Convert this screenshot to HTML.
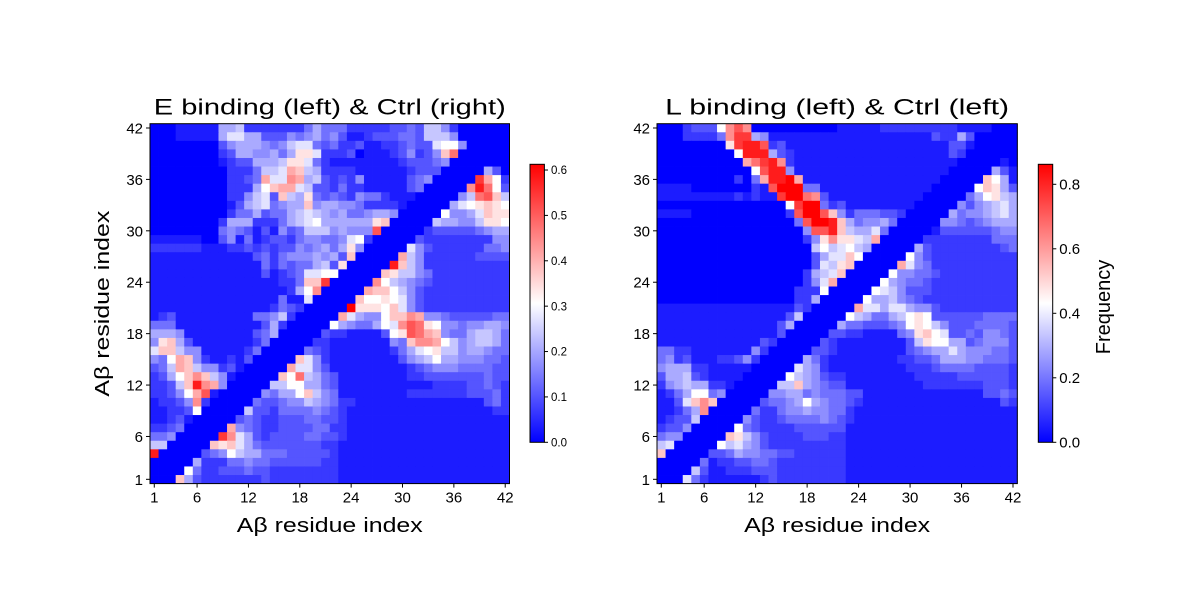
<!DOCTYPE html>
<html><head><meta charset="utf-8"><style>
html,body{margin:0;padding:0;background:#fff;}
svg{display:block;font-family:"Liberation Sans",sans-serif;}
</style></head>
<body>
<svg id="fig" width="1200" height="600" viewBox="0 0 1200 600" xmlns="http://www.w3.org/2000/svg">
<rect width="1200" height="600" fill="#fff"/>
<defs>
<linearGradient id="bwr" x1="0" y1="1" x2="0" y2="0">
<stop offset="0" stop-color="#0000ff"/><stop offset="0.5" stop-color="#ffffff"/><stop offset="1" stop-color="#ff0000"/>
</linearGradient>
</defs>
<g id="p1"></g>
<g id="p2"></g>
</svg>
<script>
// residue index categories
const residues = [1,2,3,4,5,6,7,8,9,10,11,12,13,14,15,16,17,18,19,20,21,22,23,24,25,26,27,28,29,30,31,32,33,34,35,36,37,38,39,40,41,42];
const tickResidues = [1,6,12,18,24,30,36,42];
const cbTicks1 = [0.0,0.1,0.2,0.3,0.4,0.5,0.6];
const cbTicks2 = [0.0,0.2,0.4,0.6,0.8];
const vmax1 = 0.6126;
const vmax2 = 0.862;
// level codes 0..I (19 levels, value = level/18*vmax), rows from residue 42 (top) to 1 (bottom)
const freqE = [
"000111116672222222464442222233437752000000",
"000111116886633354564531123334437775000000",
"000000003566654578843422311223433899500000",
"00000000236655646AA822230111235235BE000000",
"0000000012336667AA842111111112333450000000",
"0000000002224778CB762222111111233300000630",
"0000000002234C88DC67323251111134500000GC92",
"00000000022269BCC87332422111113400000DHE93",
"000000000225783B76A4343254421110000057EFB7",
"000000000136784566B5665542222100000689ABA9",
"000000000244634467876564456650000095568BAA",
"00000000266622246789666666AB00000766557AA9",
"00000000454313153477756555F000002333334566",
"111111003514123324554458920000032222222255",
"22222211122323233545646A500000853222222445",
"11111111111134245556563B00000C752222223333",
"1111111111111424344673A00000HB752222222222",
"111111111111131234889900000BA7754222222222",
"111111111111111224BBG00000D976543222222222",
"1111111111111111269D00000CBB97532222222222",
"111111111111111411800000B99A98532222222222",
"11111111111111243200000IAAA9B8532222222222",
"1231111111114457200000C86559BBDC5543333344",
"44411111111113620000096544698DFEA955455665",
"66651111111134600000322111139AFECB54467764",
"5AB631111111240000022111111154BDDC97567764",
"8BB755111112400000432111111124689A77566544",
"549CB521121300000B852111111113567966555443",
"347CB75523100000C8853111111111234555444433",
"2369BDB75100000B9E764311111111223333333433",
"2237BHDC5000007799664311111111111222233432",
"22359CF10000054669B75411111111222222233342",
"12235D200000433455765422111111111111111342",
"112239000007332444454321111111111111111122",
"112310000034322333443321111111111111111111",
"223400000C54322333344221111111111111111111",
"44500000GD86323333443321111111111111111111",
"7700000BAB86433333332211111111111111111111",
"H00000345976644433333211111111111111111111",
"000006222445443333332211111111111111111111",
"000094223334332222222211111111111111111111",
"000B63222222232222222211111111111111111111"
];
const freqL = [
"000 2 333 9DFD 0000000000 11111 222222222 1111 000",
"000 2222 4DGG65 1111111111111111111 32263 00000",
"00000000 AGHHF 23 111111 1111111111111 33 1 00000",
"000000000 9HHH 632 11111 1111111111111 32 00000 0",
"0000000000 CEGHD 2 11111 11111111111111 00000 10",
"00000000000 9FHH 5 11111 1111111111111 00000 631",
"000000000 2 0 4CHHIC 1 111 111111111111 00000 B961",
"1111 0000000 21 FIII 44 11 11111111111 00000 9BA63",
"111111111 212 11 GIIED 31 1111111111 00000 469A76",
"000000000000000 9GII 42 3 11111111 00000 5356786",
"1111 00000000000 2FIIFB 52444332 00000 64556786",
"0000000000000000 4FIIH B645564 00000 554345666",
"00000000000000000 5FFH B76684 00000 13 33333 455",
"00000000000000000 25AD AA87C 00000 2 2222222 444",
"000000000000000000 797 8976 00000 63 22222222 34",
"000000000000000000 368 8B9 00000 953 2222222222",
"000000000000000000 387 AB 00000 C854 2222222222",
"00000000000000000 2678 B 00000 955443 222222222",
"00000000000000000 258C 00000 965443 2222222222",
"0000000000000000 2229 00000 9875333 2222222222",
"0000000000000000 226 00000 9667543 22222222222",
"1111111111111111 32 00000 C886886553 222222222",
"111111111111111 37 00000 9764467 9A9 333333 4444",
"11111 111111111 36 00000 644 333 459A975 333 4444 3",
"11111111111111 3 00000 3322 1111 45AB98 33435543",
"1 11111111111 32 00000 32 11111111 37A9966 345553",
"4422 1111111 52 00000 332 11111111 3456686 555443",
"4523 111 22352 00000 6421 1111111 22334666 554443",
"5666 2211 111 00000 86521 11111111 2223 4444 3333 2",
"366732 1111 00000 9765322 11111111 22222 333333 2",
"256766221 00000 77B65433 111111111 2222222 333 2",
"12469945 00000 556645444 33 11111111111111 3343",
"113 8BDB 00000 3445696544 32 1111111111111111 32",
"11246D 00000 42245565544 2 1111111111111111111",
"12337 00000 532234444543 2 1111111111111111111",
"2335 00000 943 2222 33333 3 11111111111111111111",
"455 00000 BA753 2222 333 22 11111111111111111111",
"78 00000 978653 222222222 11111111111111111111",
"B 00000 3346554433 222222 11111111111111111111",
"00000 412233443 22222222 11111111111111111111",
"0000 73 11222 333 22222222 11111111111111111111",
"000 842 111111 23 22222222 11111111111111111111"
];
const CODES = "0123456789ABCDEFGHI";
const NS = "http://www.w3.org/2000/svg";
function mk(tag, attrs, parent){const e=document.createElementNS(NS,tag);for(const k in attrs)e.setAttribute(k,attrs[k]);parent.appendChild(e);return e;}
function bwr(t){t=Math.max(0,Math.min(1,t));let r,g,b;if(t<0.5){r=g=Math.round(510*t);b=255;}else{r=255;g=b=Math.round(255*(2-2*t));}return `rgb(${r},${g},${b})`;}
function decode(rows,vmax){return rows.map(r=>{const s=r.replace(/\s+/g,'');const out=[];for(let i=0;i<residues.length;i++){const c=s[i]||'0';out.push(Math.max(0,CODES.indexOf(c))/18*vmax);}return out;});}

function drawPanel(g, o){
  const n = residues.length;
  const cw = (o.x1-o.x0)/n, ch = (o.y1-o.y0)/n;
  const xScale = r => o.x0 + (r-0.5)*cw;
  const yScale = r => o.y1 - (r-0.5)*ch;
  const M = decode(o.rows, o.vmax);
  const cells = mk('g',{},g);
  
  
  M.forEach((row,ri)=>{
    const ry = residues[n-1-ri];
    row.forEach((v,ci)=>{
      const rx = residues[ci];
      const rect = mk('rect',{x:(xScale(rx)-cw/2).toFixed(2),y:(yScale(ry)-ch/2).toFixed(2),width:(cw+0.4).toFixed(2),height:(ch+0.4).toFixed(2),fill:bwr(v/o.vmax)},cells);
      
      
    });
  });
  const frame = mk('rect',{x:o.x0,y:o.y0,width:o.x1-o.x0,height:o.y1-o.y0,fill:'none',stroke:'#000','stroke-width':1},g);
  
  
  tickResidues.forEach(r=>{
    const x=xScale(r);
    mk('line',{x1:x,y1:o.y1,x2:x,y2:o.y1+4,stroke:'#000'},g);
    const t=mk('text',{x:x,y:o.y1+19,'text-anchor':'middle','font-size':15,fill:'#000'},g);
    t.textContent=r;
    
    
    const y=yScale(r);
    mk('line',{x1:o.x0,y1:y,x2:o.x0-4,y2:y,stroke:'#000'},g);
    const t2=mk('text',{x:o.x0-7,y:y+5.5,'text-anchor':'end','font-size':15,fill:'#000'},g);
    t2.textContent=r;
    
    
  });
  const title=mk('text',{x:(o.x0+o.x1)/2,y:o.y0-9,'text-anchor':'middle','font-size':22,fill:'#000',textLength:o.titleLen,lengthAdjust:'spacingAndGlyphs'},g);
  title.textContent=o.title;
  
  
  const xl=mk('text',{x:(o.x0+o.x1)/2,y:532,'text-anchor':'middle','font-size':20,fill:'#000',textLength:186,lengthAdjust:'spacingAndGlyphs'},g);
  xl.textContent='Aβ residue index';
  
  
  if(o.ylabel){
    const yl=mk('text',{x:0,y:0,'text-anchor':'middle','font-size':20,fill:'#000',textLength:186,lengthAdjust:'spacingAndGlyphs',transform:`translate(109,${(o.y0+o.y1)/2}) rotate(-90)`},g);
    yl.textContent='Aβ residue index';
    
    
  }
  // colorbar
  const cb=mk('g',{},g);
  
  
  const cy0=164.3, cy1=442.3;
  mk('rect',{x:o.cbx,y:cy0,width:14.4,height:cy1-cy0,fill:'url(#bwr)',stroke:'#000','stroke-width':1},cb);
  const cbScale = v => cy1 - v/o.vmax*(cy1-cy0);
  o.cbTicks.forEach(v=>{
    const y=cbScale(v);
    mk('line',{x1:o.cbx+14.4,y1:y,x2:o.cbx+18,y2:y,stroke:'#000'},cb);
    const t=mk('text',{x:o.cbx+21,y:y+o.cbFont*0.36,'font-size':o.cbFont,fill:'#000'},cb);
    t.textContent=v.toFixed(1);
    
    
  });
  if(o.cbLabel){
    const l=mk('text',{x:0,y:0,'text-anchor':'middle','font-size':20,fill:'#000',transform:`translate(1110,307) rotate(-90)`},cb);
    l.textContent=o.cbLabel;
    
    
  }
}
drawPanel(document.getElementById('p1'),{x0:150,x1:509.5,y0:123.7,y1:483.6,rows:freqE,vmax:vmax1,title:'E binding (left) & Ctrl (right)',titleLen:352,ylabel:true,cbx:530,cbTicks:cbTicks1,cbFont:11.5,cbLabel:null});
drawPanel(document.getElementById('p2'),{x0:657,x1:1017.3,y0:123.7,y1:483.6,rows:freqL,vmax:vmax2,title:'L binding (left) & Ctrl (left)',titleLen:344,ylabel:false,cbx:1038.3,cbTicks:cbTicks2,cbFont:15,cbLabel:'Frequency'});
</script>
</body></html>
